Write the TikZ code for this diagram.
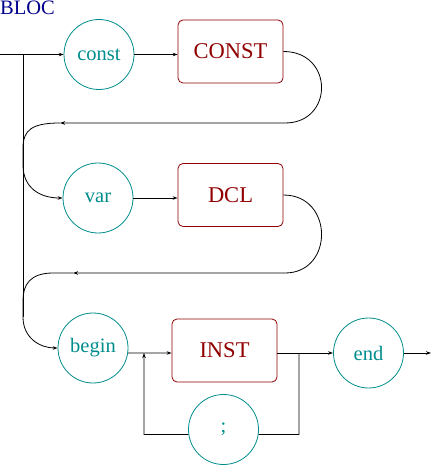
\documentclass[tikz,border=0pt]{standalone}
\usepackage{fontspec}
\setmainfont{Liberation Serif}
\usetikzlibrary{arrows.meta}
\definecolor{tealc}{RGB}{0,140,140}
\definecolor{redc}{RGB}{145,0,0}
\definecolor{navyc}{RGB}{0,0,140}
\tikzset{
  kw/.style={circle,draw=tealc,text=tealc,line width=0.8pt,minimum size=70pt,inner sep=0pt,
    font=\fontsize{20.5}{24}\selectfont},
  nt/.style={rectangle,rounded corners=5pt,draw=redc,text=redc,line width=0.8pt,
    minimum width=105pt,minimum height=63pt,inner sep=0pt,font=\fontsize{22.5}{26}\selectfont},
  conn/.style={line width=0.8pt,black},
  arr/.style={conn,-{Stealth[length=5pt,width=3.5pt]}}
}
\begin{document}
\begin{tikzpicture}[x=1pt,y=-1pt]
\useasboundingbox (0,0) rectangle (431,465);
\node[anchor=base west,inner sep=0pt,text=navyc,font=\fontsize{20.5}{24}\selectfont] (bloc) at (0,15) {BLOC};
\node[kw] (const) at (99,54.5) {const};
\node[nt] (CONST) at (230.5,51.5) {CONST};
\node[kw] (var) at (98,198) {var};
\node[nt] (DCL) at (230.5,195) {DCL};
\node[kw] (begin) at (93,348) {begin};
\node[nt] (INST) at (224.5,350.5) {INST};
\node[kw] (end) at (368.5,353) {end};
\node[kw] (semi) at (223.5,429.5) {;};
\coordinate (start) at (0,54.5);
\coordinate (fork) at (23,54.5);
\coordinate (l1r) at (285,123);
\coordinate (l1a) at (60,123);
\coordinate (l2r) at (285,273);
\coordinate (l2a) at (73,273);
\coordinate (l2b) at (53,273);
\coordinate (j1) at (144,353);
\coordinate (j2) at (299,353);
\coordinate (j3) at (299,434.4);
\coordinate (j4) at (144,434.4);
\coordinate (exit) at (431,353);
% entry
\draw[arr] (start) -- (const.west);
\draw[arr] (const.east) -- (const.east -| CONST.west);
% bypass vertical
\draw[conn] (fork) -- (23,317);
% loop 1
\draw[arr] (CONST.east) .. controls (334,51.5) and (334,123) .. (l1r) -- (l1a);
\draw[arr] (l1a) .. controls (32,123) and (23,130) .. (23,148) -- (23,165) .. controls (23,188) and (40,198) .. (var.west);
\draw[arr] (var.east) -- (var.east -| DCL.west);
% loop 2
\draw[arr] (DCL.east) .. controls (334,195) and (334,273) .. (l2r) -- (l2a);
\draw[arr] (l2a) -- (l2b) .. controls (30,273) and (23,285) .. (23,300) -- (23,317) .. controls (23,338) and (40,348) .. (begin.west);
% begin - INST - end
\draw[arr] (begin.-8) -- (j1) -- (j1 -| INST.west);
\draw[arr] (j1 -| INST.east) -- (end.west);
\draw[arr] (end.east) -- (exit);
% repetition loop
\draw[conn] (j2) -- (j3) -- (semi.-8);
\draw[arr] (semi.-172) -- (j4) -- (j1);
\end{tikzpicture}
\end{document}
